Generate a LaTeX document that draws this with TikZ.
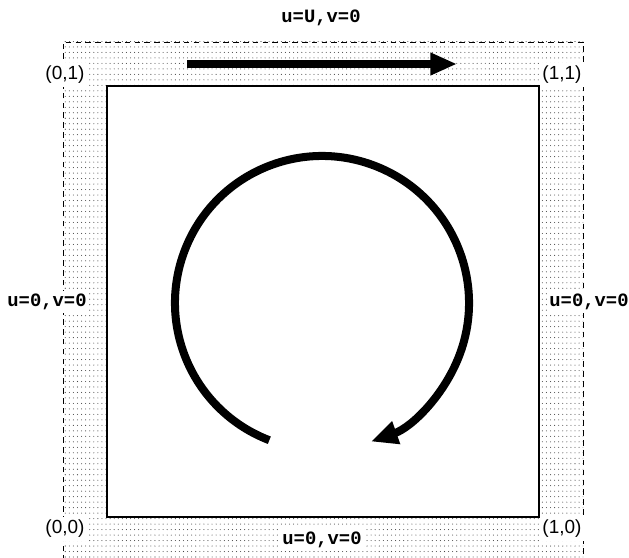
\documentclass[tikz,border=0pt]{standalone}
\usepackage{fontspec}
\newfontfamily\cornerfont{Liberation Sans}
\newfontfamily\bcfont{Liberation Mono}
\usetikzlibrary{arrows.meta,patterns,calc}
\definecolor{DotGray}{RGB}{70,70,70}
\pgfdeclarepatternformonly{walldots}{\pgfqpoint{-1pt}{-1pt}}{\pgfqpoint{1pt}{1pt}}%
  {\pgfqpoint{2.9pt}{3.9pt}}%
  {\pgfpathcircle{\pgfqpoint{0pt}{0pt}}{0.38pt}\pgfusepath{fill}}
\tikzset{
  wall/.style={draw,dash pattern=on 4pt off 3pt,line width=0.6pt,
    pattern=walldots,pattern color=DotGray},
  cavity/.style={draw,fill=white,line width=0.9pt},
  corner/.style={fill=white,inner sep=2pt,
    font=\cornerfont\fontsize{13.5}{15}\selectfont},
  bc/.style={fill=white,inner sep=2pt,
    font=\bcfont\bfseries\fontsize{13.4}{15}\selectfont},
  lidflow/.style={line width=5.4pt,-{Triangle[length=19pt,width=15pt]}},
  swirl/.style={line width=5.7pt,-{Triangle[length=19pt,width=16pt]}}
}

\begin{document}
\begin{tikzpicture}[x=0.025cm,y=0.025cm]
      \clip (0,0) rectangle (629,557);
      % shaded wall band and the cavity
      \draw[wall] (63,-4) rectangle (583,515);
      \node[bc] (top) at (321,539) {u=U,v=0};
      \node[bc] (left) at (47,255) {u=0,v=0};
      \node[bc] (right) at (589,255) {u=0,v=0};
      \node[bc] (bottom) at (322,17) {u=0,v=0};
      \node[corner] (c01) at (65,482) {(0,1)};
      \node[corner] (c11) at (562,482) {(1,1)};
      \node[corner] (c00) at (65,28) {(0,0)};
      \node[corner] (c10) at (562,28) {(1,0)};
      \draw[cavity] (107,40) rectangle (539,471);
      % moving lid
      \coordinate (lidA) at (187,493);
      \coordinate (lidB) at (457,493);
      \draw[lidflow] (lidA) -- (lidB);
      % recirculation
      \coordinate (vortex) at (322,254);
      \coordinate (swirlA) at ($(vortex)+(249:147)$);
      \draw[swirl] (swirlA) arc[start angle=249,end angle=-70.5,radius=147];
    \end{tikzpicture}
\end{document}
